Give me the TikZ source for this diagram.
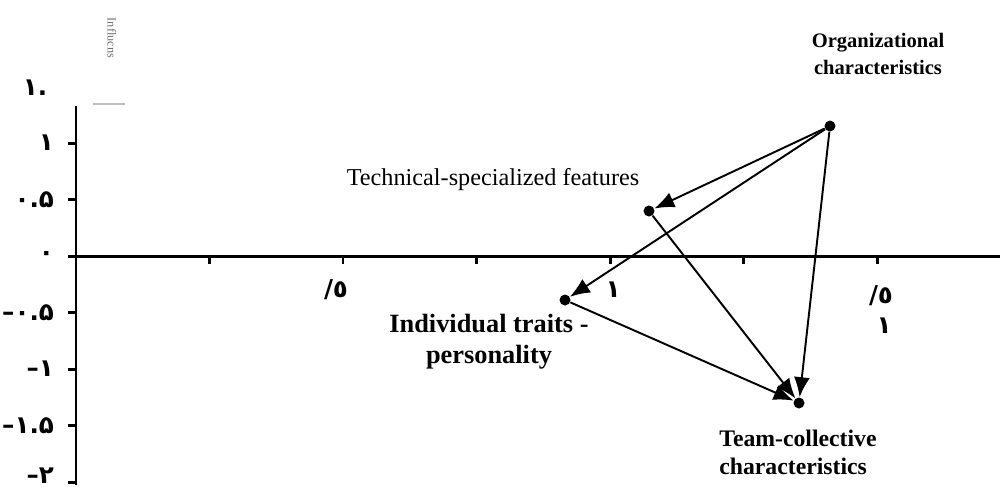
\documentclass[tikz,border=0pt]{standalone}
\usepackage{fontspec}
\setmainfont{Liberation Serif}
\newfontfamily\numfont{DejaVu Sans}
\usetikzlibrary{arrows.meta}
\definecolor{axisInk}{RGB}{0,0,0}
\definecolor{faintGray}{RGB}{190,190,190}
\definecolor{noteGray}{RGB}{110,110,110}

\begin{document}
\begin{tikzpicture}[x=0.02cm,y=-0.02cm,
  axis/.style={draw=axisInk,line width=1.7pt},
  dot/.style={circle,fill=black,inner sep=0pt,minimum size=2.2mm},
  link/.style={-{Latex[length=4mm,width=3.2mm]},line width=1.1pt},
  numlab/.style={font=\numfont\bfseries\fontsize{14}{16}\selectfont,inner sep=1pt},
  tag/.style={font=\bfseries\fontsize{13.5}{16}\selectfont,inner sep=0pt}]
\useasboundingbox (0,0) rectangle (1000,488);
% axes
\draw[axis] (76,106) -- (76,485);
\draw[axis] (76,256) -- (1000,256);
\foreach \v/\lab in {1/۱,0.5/۰.۵,0/۰,-0.5/–۰.۵,-1/–۱,-1.5/–۱.۵}{
  \draw[axis] (68,256-113*\v) -- (76,256-113*\v);
  \node[numlab,anchor=east] at (56,256-113*\v) {\lab};
}
\draw[axis] (68,482) -- (76,482);
\node[numlab,anchor=east] (ymin) at (56,476) {–۲};
\foreach \i in {1,...,6}
  \draw[axis] (76+133.5*\i,256) -- (76+133.5*\i,264);
\node[numlab] (top) at (35,88) {۱.};
\node[numlab] (xa) at (336,290) {/٥};
\node[numlab] (xb) at (613,290) {١};
\node[numlab] (xc) at (881,296) {/٥};
\node[numlab] (xd) at (884,326) {١};
% legend stub
\draw[faintGray,line width=0.6pt] (93,104) -- (125,104);
\node[rotate=-90,text=noteGray,font=\fontsize{7}{8}\selectfont,inner sep=0pt] (infl) at (112,38) {Influcns};
% points
\node[dot] (org) at (830,126) {};
\node[dot] (tech) at (649,211) {};
\node[dot] (indiv) at (565,300) {};
\node[dot] (team) at (799,403) {};
\node[font=\bfseries\fontsize{11.7}{15.5}\selectfont,align=center,inner sep=0pt] (orglab) at (878,54) {Organizational\\characteristics};
\node[font=\fontsize{13.8}{16}\selectfont,inner sep=0pt] (techlab) at (493,180) {Technical-specialized features};
\node[tag,font=\bfseries\fontsize{15}{17.5}\selectfont,align=center] (indivlab) at (489,342) {Individual traits -\\personality};
\node[tag,align=left,anchor=west] (teamlab) at (719,452) {Team-collective\\characteristics};
% links
\draw[link] (org) -- (tech);
\draw[link] (org) -- (indiv);
\draw[link] (org) -- (team);
\draw[link] (tech) -- (team);
\draw[link] (indiv) -- (team);
\end{tikzpicture}
\end{document}
